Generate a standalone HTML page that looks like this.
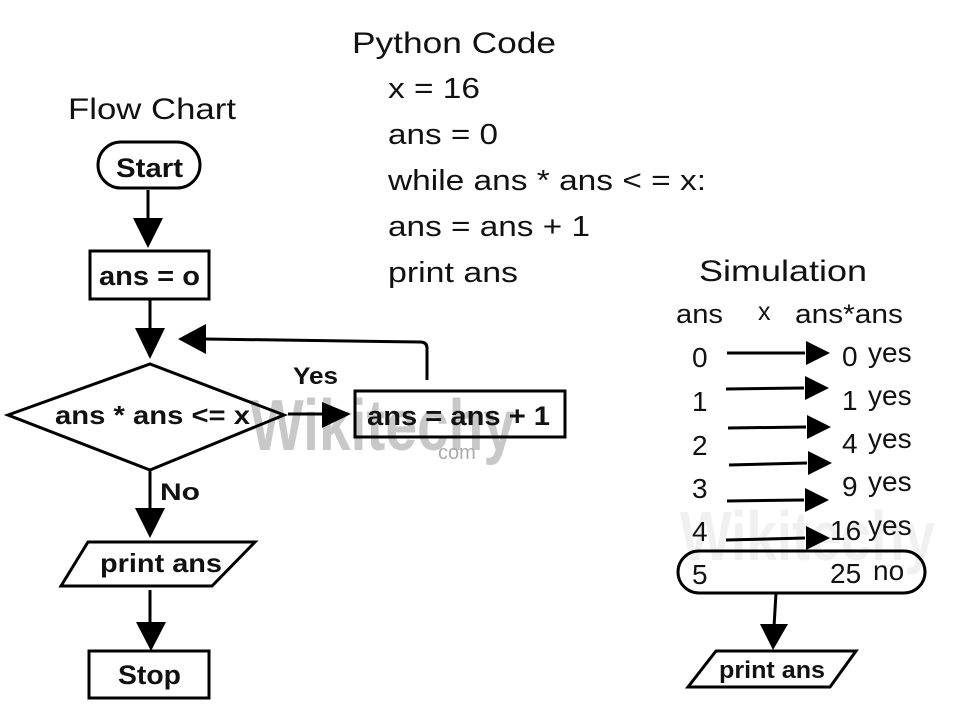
<!DOCTYPE html>
<html><head><meta charset="utf-8"><style>
html,body{margin:0;padding:0;background:#fff;}
svg{display:block;}
text{font-family:"Liberation Sans",sans-serif;fill:#111;}
.b{font-weight:bold;}
</style></head><body>
<svg width="960" height="720" viewBox="0 0 960 720" xmlns="http://www.w3.org/2000/svg">
<rect width="960" height="720" fill="#fff"/>
<!-- watermarks -->
<text x="250" y="450" class="b" font-size="72" style="fill:#c8c8c8" textLength="265" lengthAdjust="spacingAndGlyphs">Wikitechy</text>
<text x="438" y="459" font-size="20" style="fill:#aaa">com</text>
<text x="680" y="560" class="b" font-size="70" style="fill:#f0f0f0" textLength="255" lengthAdjust="spacingAndGlyphs">Wikitechy</text>

<!-- titles -->
<text x="68" y="119" font-size="30" textLength="168" lengthAdjust="spacingAndGlyphs">Flow Chart</text>
<text x="352" y="53" font-size="30" textLength="204" lengthAdjust="spacingAndGlyphs">Python Code</text>
<text x="388" y="98" font-size="29" textLength="92" lengthAdjust="spacingAndGlyphs">x = 16</text>
<text x="388" y="144" font-size="29" textLength="110" lengthAdjust="spacingAndGlyphs">ans = 0</text>
<text x="388" y="190" font-size="29" textLength="318" lengthAdjust="spacingAndGlyphs">while ans * ans &lt; = x:</text>
<text x="388" y="236" font-size="29" textLength="202" lengthAdjust="spacingAndGlyphs">ans = ans + 1</text>
<text x="388" y="282" font-size="29" textLength="130" lengthAdjust="spacingAndGlyphs">print ans</text>
<text x="699" y="281" font-size="30" textLength="168" lengthAdjust="spacingAndGlyphs">Simulation</text>

<g stroke="#000" stroke-width="3" fill="none">
<rect x="98" y="142" width="102" height="46" rx="23"/>
<rect x="90" y="251" width="119" height="48"/>
<polygon points="8,415 150,364 284,415 150,470"/>
<rect x="355" y="391" width="210" height="46"/>
<polygon points="88,542 255,542 212,586 61,586"/>
<rect x="89" y="651" width="120" height="47"/>
<line x1="148" y1="190" x2="148" y2="222"/>
<line x1="150" y1="299" x2="150" y2="332"/>
<line x1="150" y1="470" x2="150" y2="512"/>
<line x1="150" y1="590" x2="150" y2="625"/>
<path d="M427 380 L427 348 Q427 342 420 342 L205 339"/>
<line x1="288" y1="414" x2="325" y2="414"/>
<rect x="678" y="551" width="247" height="42" rx="21"/>
<line x1="776" y1="593" x2="774" y2="627"/>
<polygon points="716,651 856,651 830,687 688,687"/>
<line x1="727" y1="353" x2="805" y2="353"/>
<line x1="726" y1="389" x2="804" y2="388"/>
<line x1="728" y1="428" x2="806" y2="427"/>
<line x1="729" y1="465" x2="807" y2="463"/>
<line x1="727" y1="501" x2="804" y2="500"/>
<line x1="726" y1="540" x2="805" y2="538"/>
</g>
<g fill="#000">
<polygon points="133,218 163,218 148,248"/>
<polygon points="135,328 165,328 150,359"/>
<polygon points="206,324 206,354 178,339"/>
<polygon points="322,402 322,428 351,414"/>
<polygon points="135,508 165,508 150,538"/>
<polygon points="136,622 166,622 151,651"/>
<polygon points="760,624 788,624 773,650"/>
<polygon points="806,341 806,365 830,353"/>
<polygon points="805,376 805,400 829,388"/>
<polygon points="807,415 807,439 831,427"/>
<polygon points="808,451 808,475 832,463"/>
<polygon points="805,488 805,512 829,500"/>
<polygon points="806,526 806,550 830,538"/>
</g>

<!-- flow labels -->
<text x="116" y="177" class="b" font-size="27" textLength="67" lengthAdjust="spacingAndGlyphs">Start</text>
<text x="99" y="285" class="b" font-size="27" textLength="101" lengthAdjust="spacingAndGlyphs">ans = o</text>
<text x="55" y="424" class="b" font-size="26" textLength="195" lengthAdjust="spacingAndGlyphs">ans * ans &lt;= x</text>
<text x="293" y="384" class="b" font-size="24" textLength="45" lengthAdjust="spacingAndGlyphs">Yes</text>
<text x="367" y="425" class="b" font-size="27" textLength="183" lengthAdjust="spacingAndGlyphs">ans = ans + 1</text>
<text x="160" y="500" class="b" font-size="24" textLength="40" lengthAdjust="spacingAndGlyphs">No</text>
<text x="100" y="572" class="b" font-size="26" textLength="122" lengthAdjust="spacingAndGlyphs">print ans</text>
<text x="118" y="684" class="b" font-size="27" textLength="63" lengthAdjust="spacingAndGlyphs">Stop</text>

<!-- simulation -->
<text x="676" y="323" font-size="27" textLength="47" lengthAdjust="spacingAndGlyphs">ans</text>
<text x="758" y="320" font-size="25">x</text>
<text x="795" y="323" font-size="27" textLength="108" lengthAdjust="spacingAndGlyphs">ans*ans</text>
<g font-size="28">
<text x="692" y="367">0</text>
<text x="692" y="411">1</text>
<text x="692" y="455">2</text>
<text x="692" y="498">3</text>
<text x="692" y="541">4</text>
<text x="692" y="584">5</text>
<text x="842" y="366">0</text>
<text x="842" y="410">1</text>
<text x="842" y="453">4</text>
<text x="842" y="496">9</text>
<text x="830" y="540">16</text>
<text x="830" y="583">25</text>
<text x="868" y="362">yes</text>
<text x="868" y="405">yes</text>
<text x="868" y="448">yes</text>
<text x="868" y="491">yes</text>
<text x="868" y="535">yes</text>
<text x="873" y="580">no</text>
</g>
<text x="719" y="678" class="b" font-size="24" textLength="106" lengthAdjust="spacingAndGlyphs">print ans</text>
</svg>
</body></html>
